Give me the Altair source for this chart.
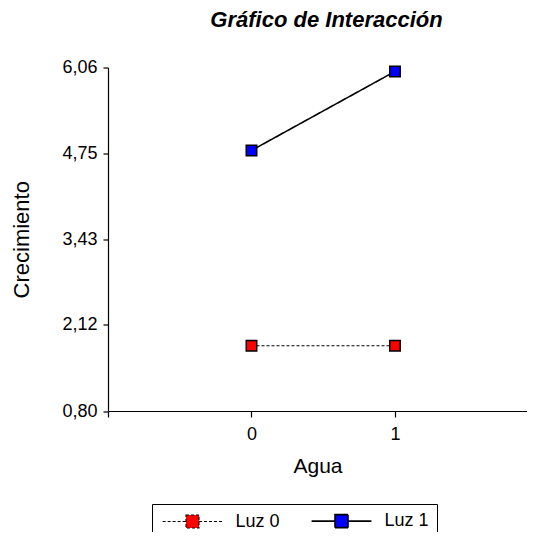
import altair as alt
import pandas as pd

agua = [0, 1]
luz0 = [1.80, 1.80]
luz1 = [4.79, 6.00]
series = ["Luz 0", "Luz 1"]
y_ticks = [0.80, 2.12, 3.43, 4.75, 6.06]
x_ticks = [-1, 0, 1]

rows = []
for s, vals in zip(series, [luz0, luz1]):
    for a, v in zip(agua, vals):
        rows.append({"Agua": a, "Luz": s, "Crecimiento": v})
df = pd.DataFrame(rows)

FONT = "Liberation Sans"
# square with connecting line segments on both sides (legend symbol)
sym = "M-4.6,0H-1M1,0H4.6M-1,-1H1V1H-1Z"

legend = alt.Legend(
    title=None, orient="none", legendX=44, legendY=436.5, direction="horizontal",
    symbolType=sym, symbolSize=169, symbolOffset=23.5, symbolStrokeColor="black", symbolStrokeWidth=1.2,
    symbolOpacity=1,
    labelFont=FONT, labelFontSize=18, labelColor="black", labelOffset=34,
    columnPadding=28, padding=8, strokeColor="black", fillColor="white", cornerRadius=0,
)

x_enc = alt.X(
    "Agua:Q",
    scale=alt.Scale(domain=[-1, 1.92], nice=False, zero=False),
    axis=alt.Axis(
        values=x_ticks, grid=False, tickSize=6, labelPadding=8, labelFontSize=18,
        labelExpr="datum.value < -0.5 ? '' : format(datum.value, 'd')",
        title="Agua", titleFontSize=21, titleFontWeight="normal",
        titleY=61, titleBaseline="alphabetic",
    ),
)
y_enc = alt.Y(
    "Crecimiento:Q",
    scale=alt.Scale(domain=[0.80, 6.06], nice=False, zero=False),
    axis=alt.Axis(
        values=y_ticks, grid=False, tickSize=5, labelPadding=6, labelFontSize=18,
        labelExpr="replace(format(datum.value, '.2f'), '.', ',')",
        title="Crecimiento", titleFontSize=22, titleFontWeight="normal",
        titleX=-80, titleY=171.75, titleAlign="center", titleBaseline="alphabetic",
        titleAngle=270,
    ),
)

lines = alt.Chart(df).mark_line(color="black").encode(
    x=x_enc,
    y=y_enc,
    detail="Luz:N",
    strokeDash=alt.StrokeDash("Luz:N", scale=alt.Scale(domain=series, range=[[3, 2], [1, 0]]), legend=legend),
    strokeWidth=alt.StrokeWidth("Luz:N", scale=alt.Scale(domain=series, range=[1.1, 1.6]), legend=None),
)

points = alt.Chart(df).mark_point(shape="square", filled=True, size=110, stroke="black", strokeWidth=1.5, opacity=1).encode(
    x=x_enc,
    y=y_enc,
    fill=alt.Fill("Luz:N", scale=alt.Scale(domain=series, range=["#ff0000", "#0000ff"]), legend=legend),
)

chart = alt.layer(lines, points).properties(
    width=419,
    height=343.5,
    title=alt.TitleParams(
        "Gráfico de Interacción", font=FONT, fontSize=22, fontStyle="italic", fontWeight="bold",
        anchor="middle", dx=9, baseline="alphabetic", offset=10, color="black",
    ),
    padding={"left": 100, "top": 59.5, "right": 0, "bottom": 121},
    autosize="none",
).configure_view(stroke=None).configure_axis(
    domainColor="black", tickColor="black", labelColor="black", titleColor="black",
    labelFont=FONT, titleFont=FONT, domainWidth=1.2, tickWidth=1.2,
)

chart.save("out.html", embed_options={"renderer": "svg", "actions": False})
